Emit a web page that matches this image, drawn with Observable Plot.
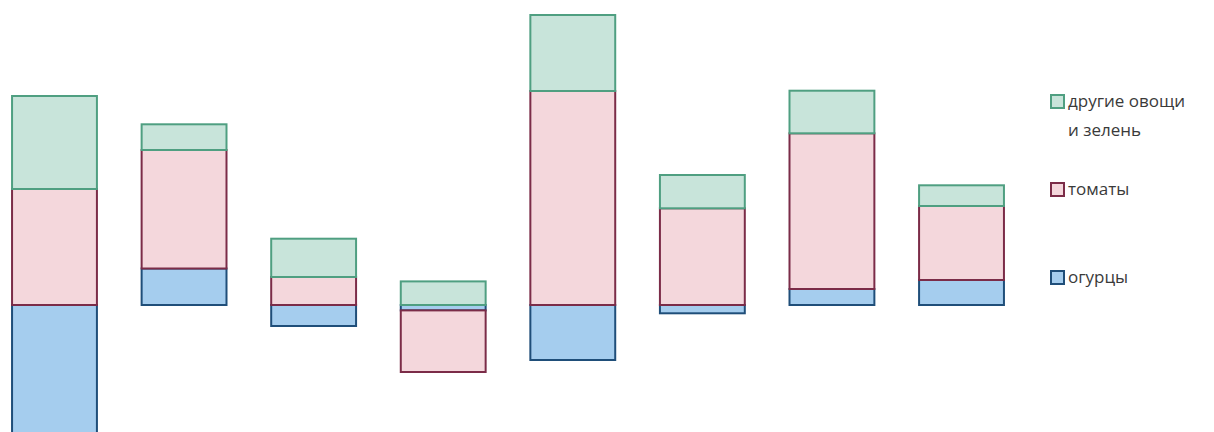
<!DOCTYPE html>
<html>
<head>
<meta charset="utf-8">
<script src="https://cdn.jsdelivr.net/npm/d3@7"></script>
<script src="https://cdn.jsdelivr.net/npm/@observablehq/plot@0.6"></script>
<style>
  html, body { margin: 0; padding: 0; background: #fff; }
  #wrap { position: relative; width: 1214px; height: 432px; overflow: hidden; }
  .leg { position: absolute; left: 1050px; font-family: "Open Sans", sans-serif; font-size: 17px; color: #3a3a3a; line-height: 29px; }
  .sw { position: absolute; left: 0; width: 11px; height: 11px; border: 2px solid; }
  .lt { position: absolute; left: 18px; white-space: nowrap; }
</style>
</head>
<body>
<div id="wrap"></div>
<script>
// categories (no labels shown in the reference)
const categories = ["1", "2", "3", "4", "5", "6", "7", "8"];
// series values
const cucumbers = [-13.0, 3.65, -2.1, -0.54, -5.5, -0.83, 1.6, 2.5];
const tomatoes  = [11.6, 11.85, 2.8, -6.16, 21.4, 9.67, 15.57, 7.4];
const others    = [9.3, 2.57, 3.83, 2.36, 7.6, 3.33, 4.26, 2.07];
const seriesNames = ["огурцы", "томаты", "другие овощи и зелень"];
const fills   = ["#a5cdee", "#f4d7dc", "#c8e4da"];
const strokes = ["#1f4e79", "#7b2c48", "#4f9f81"];

const seriesValues = [cucumbers, tomatoes, others];
const data = [];
categories.forEach((c, i) => {
  seriesValues.forEach((vals, s) => data.push({cat: c, series: seriesNames[s], value: vals[i]}));
});

const chart = Plot.plot({
  width: 1214,
  height: 432,
  marginLeft: 0,
  marginRight: 198,
  marginTop: 0,
  marginBottom: 0,
  x: {domain: categories, paddingInner: 0.345, paddingOuter: 0.093, round: false, axis: null},
  y: {domain: [-12.7, 30.5], axis: null},
  color: {domain: seriesNames, range: fills},
  marks: [
    Plot.barY(data, {
      x: "cat", y: "value", fill: "series",
      stroke: d => strokes[seriesNames.indexOf(d.series)],
      strokeWidth: 2, inset: 0
    })
  ]
});
const wrap = document.getElementById("wrap");
wrap.appendChild(chart);

// legend on the right, entries spread evenly like the original
const legendItems = [
  {name: "другие овощи<br>и зелень", s: 2, top: 86},
  {name: "томаты", s: 1, top: 174},
  {name: "огурцы", s: 0, top: 262}
];
legendItems.forEach(it => {
  const d = document.createElement("div");
  d.className = "leg";
  d.style.top = it.top + "px";
  d.innerHTML = `<div class="sw" style="top:8px;background:${fills[it.s]};border-color:${strokes[it.s]}"></div><div class="lt">${it.name}</div>`;
  wrap.appendChild(d);
});
</script>
</body>
</html>
